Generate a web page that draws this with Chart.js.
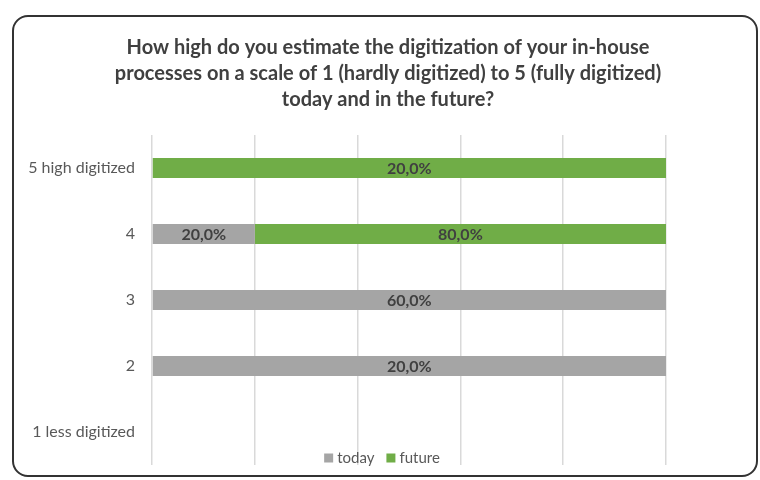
<!DOCTYPE html>
<html>
<head>
<meta charset="utf-8">
<script src="https://cdn.jsdelivr.net/npm/chart.js@4.4.1/dist/chart.umd.min.js"></script>
<style>
  body { margin: 0; background: #fff; }
  #wrap { position: relative; width: 760px; height: 480px; overflow: hidden; }
  #frame {
    position: absolute; left: 12px; top: 15px; width: 746px; height: 462px;
    border: 2px solid #333; border-radius: 16px; box-sizing: border-box;
  }
  #myChart { position: absolute; left: 0; top: 0; }
</style>
</head>
<body>
<div id="wrap">
  <div id="frame"></div>
  <canvas id="myChart" width="760" height="480"></canvas>
</div>
<script>
// answers per level, in percent
var levels = ["5 high digitized", "4", "3", "2", "1 less digitized"];
var today = [0, 20, 60, 20, 0];
var future = [20, 80, 0, 0, 0];
var seriesNames = ["today", "future"];
var seriesColors = ["#a5a5a5", "#70ad47"];
var gridSteps = [0, 20, 40, 60, 80, 100];

var titleLines = [
  "How high do you estimate the digitization of your in-house",
  "processes on a scale of 1 (hardly digitized) to 5 (fully digitized)",
  "today and in the future?"
];

// each row is drawn as 100% stacked
function share(a, b) {
  var out = [];
  for (var i = 0; i < a.length; i++) {
    var sum = a[i] + b[i];
    out.push(sum > 0 && a[i] > 0 ? a[i] / sum * 100 : null);
  }
  return out;
}

var raw = [today, future];

var valueLabels = {
  id: "valueLabels",
  afterDatasetsDraw: function(chart) {
    var c = chart.ctx;
    c.save();
    c.font = "bold 16px Lato";
    c.fillStyle = "#404040";
    c.textAlign = "center";
    c.textBaseline = "middle";
    chart.data.datasets.forEach(function(ds, d) {
      chart.getDatasetMeta(d).data.forEach(function(bar, i) {
        var v = raw[d][i];
        if (!v) return;
        c.fillText(v.toFixed(1).replace(".", ",") + "%", (bar.x + bar.base) / 2, bar.y + 1);
      });
    });
    c.restore();
  }
};

var legendBox = {
  id: "legendBox",
  afterDraw: function(chart) {
    var c = chart.ctx;
    c.save();
    c.font = "15px Lato";
    c.textBaseline = "middle";
    var box = 9, gap = 4, between = 12;
    var widths = seriesNames.map(function(n) { return box + gap + c.measureText(n).width; });
    var total = widths[0] + widths[1] + between;
    var x = 382 - total / 2, y = 458;
    seriesNames.forEach(function(n, i) {
      c.fillStyle = seriesColors[i];
      c.fillRect(x, y - box / 2, box, box);
      c.fillStyle = "#595959";
      c.fillText(n, x + box + gap, y);
      x += widths[i] + between;
    });
    c.restore();
  }
};

var ctx = document.getElementById("myChart");
var myChart = new Chart(ctx, {
  type: "bar",
  data: {
    labels: levels,
    datasets: [
      { label: seriesNames[0], data: share(today, future), backgroundColor: seriesColors[0] },
      { label: seriesNames[1], data: share(future, today), backgroundColor: seriesColors[1] }
    ]
  },
  options: {
    responsive: false,
    animation: false,
    indexAxis: "y",
    barPercentage: 0.3,
    categoryPercentage: 1,
    layout: { padding: { left: 16, right: 0, top: 0, bottom: 15 } },
    scales: {
      x: {
        stacked: true,
        min: gridSteps[0],
        max: gridSteps[gridSteps.length - 1],
        ticks: { display: false, stepSize: 20 },
        grid: { color: "#d9d9d9", lineWidth: 1.5, drawTicks: false },
        border: { display: false },
        afterFit: function(scale) { scale.height = 0; }
      },
      y: {
        stacked: true,
        grid: { display: false, drawTicks: false },
        border: { display: false },
        ticks: { color: "#595959", font: { family: "Lato", size: 16 }, padding: 17 },
        afterFit: function(scale) {
          scale.width = 136;
          scale.paddingTop = 0;
          scale.paddingBottom = 0;
        }
      },
      // empty right axis only keeps room on the right
      yRight: {
        position: "right",
        grid: { display: false, drawTicks: false },
        border: { display: false },
        ticks: { display: false },
        afterFit: function(scale) { scale.width = 94; }
      }
    },
    plugins: {
      legend: { display: false },
      tooltip: { enabled: false },
      title: {
        display: true,
        text: titleLines,
        color: "#404040",
        font: { family: "Lato", size: 20, weight: "bold", lineHeight: 26 / 20 },
        padding: { top: 35, bottom: 22 }
      }
    }
  },
  plugins: [valueLabels, legendBox]
});
</script>
</body>
</html>
